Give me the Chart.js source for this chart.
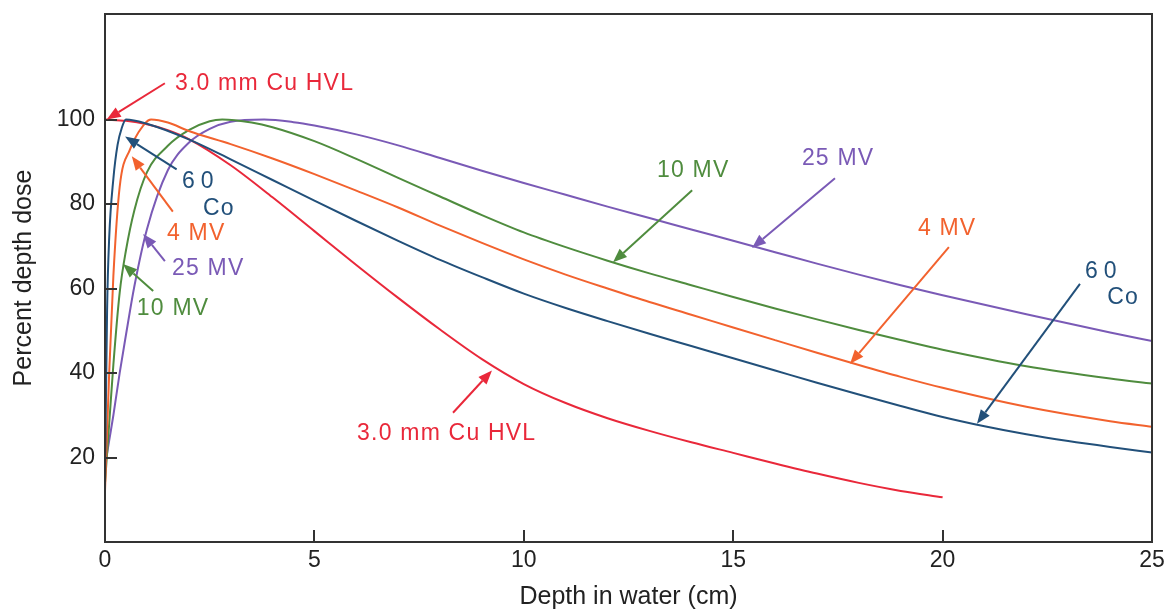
<!DOCTYPE html>
<html>
<head>
<meta charset="utf-8">
<script src="https://cdn.jsdelivr.net/npm/chart.js@4.4.0/dist/chart.umd.min.js"></script>
<style>
  body { margin: 0; background: #fff; }
  canvas { display: block; }
</style>
</head>
<body>
<canvas id="pdd" width="1168" height="610"></canvas>
<script>
// depth in water (cm) and percent depth dose
const hvlDepth = [0, 0.5, 1, 1.5, 2, 3, 4, 5, 6, 7, 8, 9, 10, 11, 12, 13, 14, 15, 16, 17, 18, 19, 20];
const hvlDose  = [100, 99.7, 98.9, 97.5, 95.4, 89.2, 81.6, 73.6, 65.6, 57.8, 50.3, 43.3, 37.4, 32.9, 29.3, 26.3, 23.6, 21.1, 18.6, 16.2, 14, 12.1, 10.6];

const coDepth = [0, 0.05, 0.1, 0.2, 0.3, 0.4, 0.5, 1, 2, 3, 4, 5, 6, 7, 8, 9, 10, 11, 12, 13, 14, 15, 16, 17, 18, 19, 20, 21, 22, 23, 24, 25];
const coDose  = [15, 55, 72, 86, 94, 98, 100, 99, 95.3, 90.6, 85.7, 80.8, 76, 71.3, 66.8, 62.7, 58.8, 55.4, 52.3, 49.3, 46.4, 43.5, 40.6, 37.7, 34.9, 32.2, 29.6, 27.4, 25.5, 23.9, 22.5, 21.2];

const mv4Depth = [0, 0.1, 0.2, 0.35, 0.6, 0.8, 1.1, 1.5, 2, 3, 4, 5, 6, 7, 8, 9, 10, 11, 12, 13, 14, 15, 16, 17, 18, 19, 20, 22, 24, 25];
const mv4Dose  = [12, 40, 63, 84, 93, 97, 100, 99.3, 97.3, 94.2, 90.8, 87.1, 83.2, 79.2, 74.9, 70.8, 66.9, 63.3, 60, 56.8, 53.8, 50.8, 47.8, 44.8, 41.9, 39.1, 36.5, 32, 28.6, 27.3];

const mv10Depth = [0, 0.1, 0.2, 0.35, 0.5, 0.7, 1, 1.5, 2, 2.5, 2.8, 3.5, 4, 5, 6, 7, 8, 9, 10, 11, 12, 13, 14, 15, 16, 17, 18, 19, 20, 22, 24, 25];
const mv10Dose  = [14, 28, 42, 59, 69, 78.5, 87.5, 93.8, 97.5, 99.6, 100, 99.3, 98.2, 94.9, 90.7, 86.2, 81.8, 77.4, 73.3, 69.8, 66.6, 63.6, 60.8, 58, 55.3, 52.7, 50.2, 47.8, 45.5, 41.6, 38.7, 37.5];

const mv25Depth = [0, 0.1, 0.2, 0.35, 0.5, 0.7, 1, 1.5, 2, 2.5, 3, 3.8, 4.5, 5, 6, 7, 8, 9, 10, 11, 12, 13, 14, 15, 16, 17, 18, 19, 20, 22, 24, 25];
const mv25Dose  = [18, 24, 30, 40, 49, 60.5, 74, 88, 94.5, 97.8, 99.5, 100, 99.4, 98.6, 96.5, 93.9, 90.9, 87.9, 85, 82.2, 79.4, 76.7, 74, 71.3, 68.6, 65.9, 63.3, 60.8, 58.4, 53.9, 49.6, 47.6];

const xTicks = [0, 5, 10, 15, 20, 25];
const yTicks = [20, 40, 60, 80, 100];

const RED = '#e9283a', ORANGE = '#f2622e', GREEN = '#4f8c3e', PURPLE = '#7a5ab6', BLUE = '#22507a';
const FONT = '"Liberation Sans", Arial, sans-serif';

function pts(xs, ys) {
  return xs.map((x, i) => ({ x: x, y: ys[i] }));
}

// callout labels and arrows, in data units (cm, %)
const callouts = [
  { text: '3.0 mm Cu HVL', color: RED, at: [1.67, 108.6], from: [1.43, 108.6], to: [0.04, 100] },
  { text: '60', color: BLUE, at: [1.84, 85.4], from: [1.71, 88.2], to: [0.48, 96], gap: 6 },
  { text: 'Co', color: BLUE, at: [2.34, 79.0] },
  { text: '4 MV', color: ORANGE, at: [1.48, 73.1], from: [1.62, 78.2], to: [0.64, 91.3] },
  { text: '25 MV', color: PURPLE, at: [1.6, 64.8], from: [1.43, 66.5], to: [0.91, 72.9] },
  { text: '10 MV', color: GREEN, at: [0.76, 55.2], from: [1.15, 59.4], to: [0.43, 65.8] },
  { text: '3.0 mm Cu HVL', color: RED, at: [6.02, 25.6], from: [8.31, 30.6], to: [9.24, 40.6] },
  { text: '10 MV', color: GREEN, at: [13.18, 87.9], from: [14.02, 83.3], to: [12.13, 66.2] },
  { text: '25 MV', color: PURPLE, at: [16.64, 90.8], from: [17.43, 86.1], to: [15.45, 69.6] },
  { text: '4 MV', color: ORANGE, at: [19.41, 74.3], from: [20.15, 69.8], to: [17.79, 42.2] },
  { text: '60', color: BLUE, at: [23.4, 64.1], from: [23.28, 61.1], to: [20.82, 28.0], gap: 6 },
  { text: 'Co', color: BLUE, at: [23.93, 57.8] }
];

const frameAndCallouts = {
  id: 'frameAndCallouts',
  afterDraw(chart) {
    const ctx = chart.ctx;
    const xs = chart.scales.x, ys = chart.scales.y;
    const a = chart.chartArea;
    ctx.save();
    ctx.strokeStyle = '#333';
    ctx.lineWidth = 2;
    ctx.strokeRect(a.left, a.top, a.right - a.left, a.bottom - a.top);
    // tick marks point into the plot
    ctx.beginPath();
    yTicks.forEach(v => {
      const py = Math.round(ys.getPixelForValue(v));
      ctx.moveTo(a.left, py);
      ctx.lineTo(a.left + 12, py);
    });
    xTicks.slice(1, -1).forEach(v => {
      const px = Math.round(xs.getPixelForValue(v));
      ctx.moveTo(px, a.bottom);
      ctx.lineTo(px, a.bottom - 12);
    });
    ctx.stroke();

    ctx.font = '23px ' + FONT;
    ctx.textBaseline = 'middle';
    ctx.textAlign = 'left';
    callouts.forEach(c => {
      ctx.fillStyle = c.color;
      ctx.strokeStyle = c.color;
      if (c.from) {
        const x1 = xs.getPixelForValue(c.from[0]), y1 = ys.getPixelForValue(c.from[1]);
        const x2 = xs.getPixelForValue(c.to[0]), y2 = ys.getPixelForValue(c.to[1]);
        const ang = Math.atan2(y2 - y1, x2 - x1);
        const len = 14, half = 5.5;
        const bx = x2 - len * Math.cos(ang), by = y2 - len * Math.sin(ang);
        ctx.lineWidth = 2;
        ctx.beginPath();
        ctx.moveTo(x1, y1);
        ctx.lineTo(bx, by);
        ctx.stroke();
        ctx.beginPath();
        ctx.moveTo(x2, y2);
        ctx.lineTo(bx - half * Math.sin(ang), by + half * Math.cos(ang));
        ctx.lineTo(bx + half * Math.sin(ang), by - half * Math.cos(ang));
        ctx.closePath();
        ctx.fill();
      }
      ctx.letterSpacing = (c.gap || 1.2) + 'px';
      ctx.fillText(c.text, xs.getPixelForValue(c.at[0]), ys.getPixelForValue(c.at[1]));
    });
    ctx.restore();
  }
};

function line(label, xs, ys, color) {
  return {
    label: label,
    data: pts(xs, ys),
    borderColor: color,
    backgroundColor: color,
    borderWidth: 2,
    pointRadius: 0,
    fill: false,
    cubicInterpolationMode: 'monotone'
  };
}

new Chart(document.getElementById('pdd'), {
  type: 'line',
  data: {
    datasets: [
      line('60Co', coDepth, coDose, BLUE),
      line('4 MV', mv4Depth, mv4Dose, ORANGE),
      line('10 MV', mv10Depth, mv10Dose, GREEN),
      line('25 MV', mv25Depth, mv25Dose, PURPLE),
      line('3.0 mm Cu HVL', hvlDepth, hvlDose, RED)
    ]
  },
  options: {
    responsive: false,
    animation: false,
    layout: { padding: { top: 14, right: 16, left: 0, bottom: 0 } },
    plugins: { legend: { display: false }, tooltip: { enabled: false } },
    scales: {
      x: {
        type: 'linear',
        min: 0,
        max: 25,
        afterBuildTicks: s => { s.ticks = xTicks.map(v => ({ value: v })); },
        afterFit: s => { s.height = 68; s.paddingLeft = 0; s.paddingRight = 0; },
        grid: { display: false, drawTicks: false },
        border: { display: false },
        ticks: { padding: 5, color: '#222', font: { size: 23, family: FONT }, maxRotation: 0 },
        title: {
          display: true,
          text: 'Depth in water (cm)',
          color: '#222',
          font: { size: 25, family: FONT, lineHeight: 1 },
          padding: { top: 0, bottom: 0 }
        }
      },
      y: {
        type: 'linear',
        min: 0,
        max: 125,
        afterBuildTicks: s => { s.ticks = yTicks.map(v => ({ value: v })); },
        afterFit: s => { s.width = 105; s.paddingTop = 0; s.paddingBottom = 0; },
        grid: { display: false, drawTicks: false },
        border: { display: false },
        ticks: { padding: 10, color: '#222', font: { size: 23, family: FONT } },
        title: {
          display: true,
          text: 'Percent depth dose',
          color: '#222',
          font: { size: 25, family: FONT, lineHeight: 1 },
          padding: { top: 12, bottom: 0 }
        }
      }
    }
  },
  plugins: [frameAndCallouts]
});
</script>
</body>
</html>
